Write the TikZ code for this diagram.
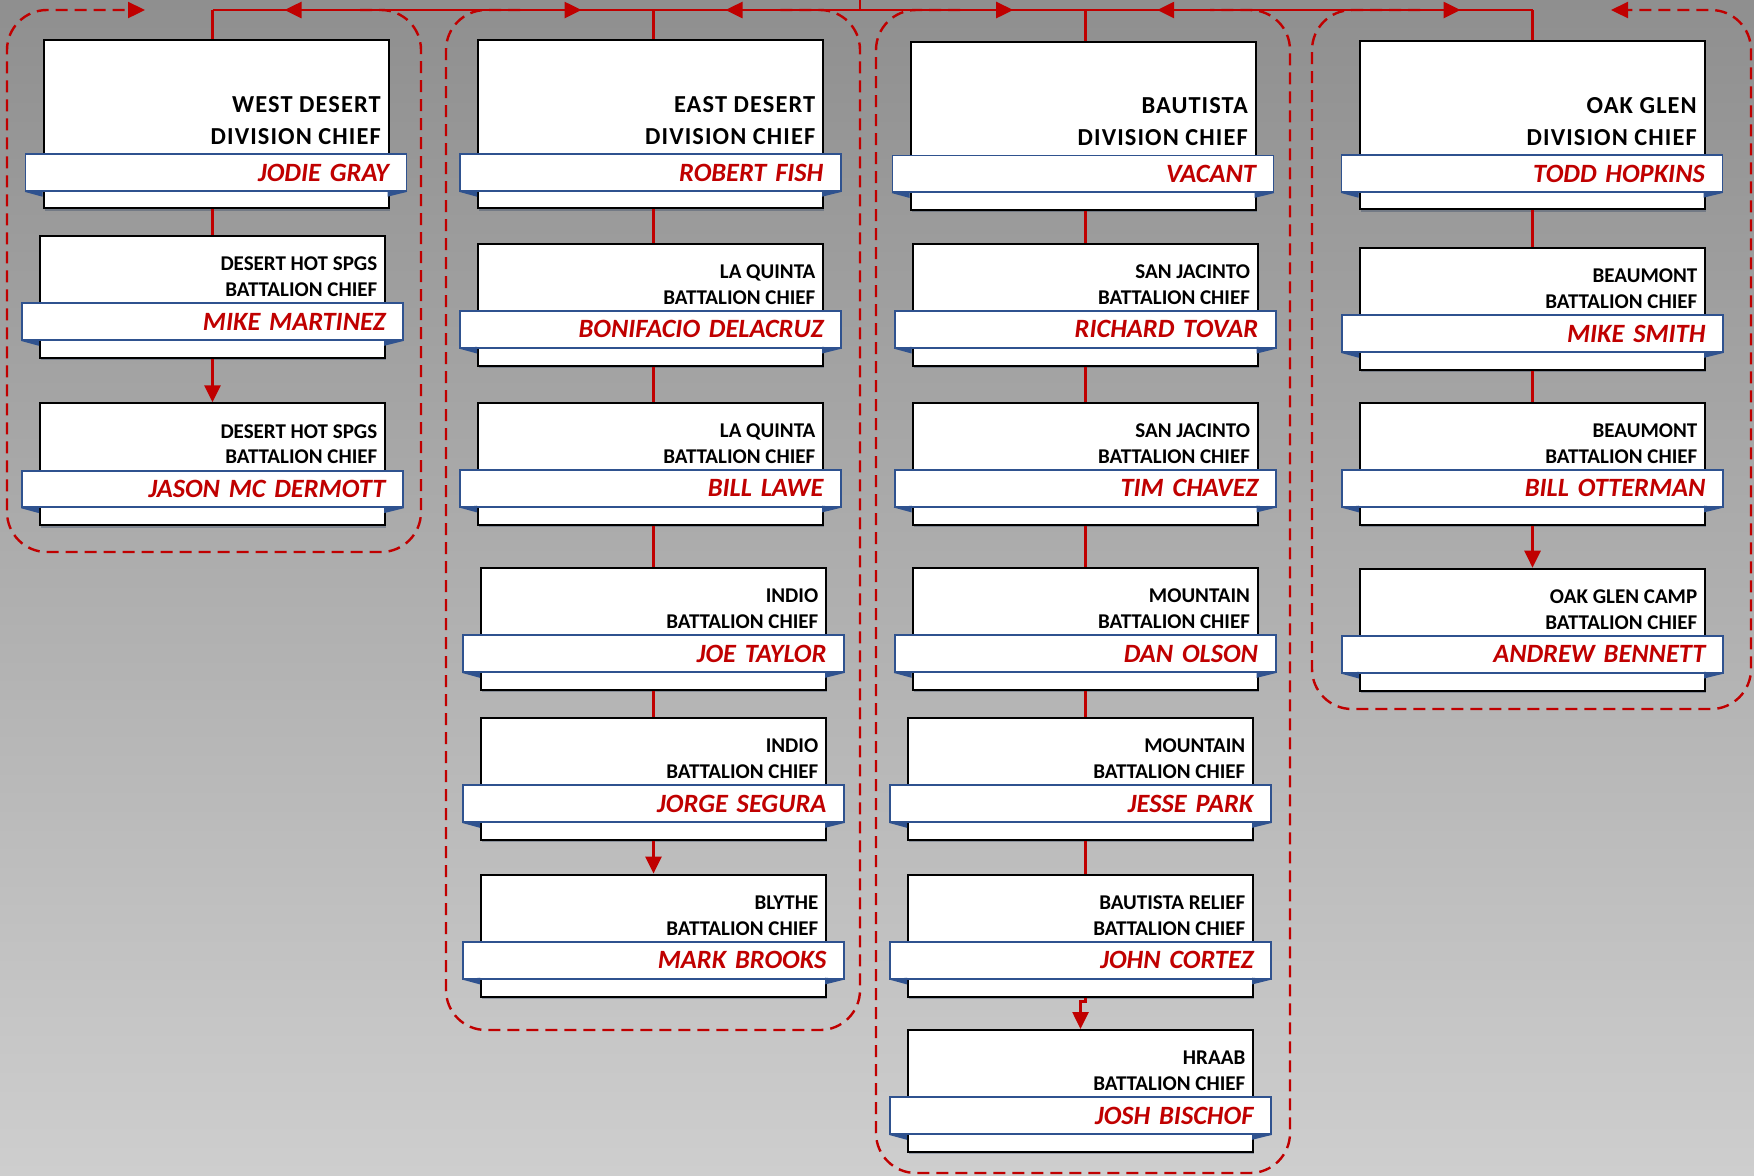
\documentclass[tikz,border=0pt]{standalone}
\usepackage{fontspec}
\setmainfont{Carlito}
\usetikzlibrary{arrows.meta,shadows}

\definecolor{chiefred}{RGB}{192,0,0}
\definecolor{ribbonblue}{RGB}{47,82,143}
\definecolor{bgtop}{RGB}{143,143,143}
\definecolor{bgbottom}{RGB}{206,206,206}

\tikzset{every picture/.style={line width=0.75pt},
  chiefbox/.style={draw=black, line width=1pt, fill=white, minimum width=172.5pt, inner sep=0pt, anchor=north west,
    drop shadow={shadow xshift=0.6pt, shadow yshift=-1.2pt, opacity=0.3, fill=ribbonblue!60!black}},
  divbox/.style={chiefbox, minimum height=84pt},
  batbox/.style={chiefbox, minimum height=61pt},
  divtitle/.style={anchor=south east, align=right, inner sep=0pt, font=\fontsize{12.2}{16}\selectfont\bfseries\addfontfeature{LetterSpace=4.5}},
  battitle/.style={anchor=south east, align=right, inner sep=0pt, font=\fontsize{10.5}{12.8}\selectfont\bfseries},
  ribbon/.style={draw=ribbonblue, line width=0.9pt, fill=white, minimum width=190.5pt, minimum height=18.35pt, text width=173pt,
    inner xsep=8.75pt, inner ysep=0pt, align=right, anchor=north west, text=chiefred, font=\fontsize{13.2}{15}\selectfont\bfseries\itshape},
  fold/.style={fill=ribbonblue},
  link/.style={draw=chiefred, line width=1.3pt},
  tip/.style={-{Triangle[length=8.5pt,width=8pt]}},
  group/.style={draw=chiefred, line width=1.2pt, dash pattern=on 6pt off 3.5pt, rounded corners=20pt}
}

% division chief box: name, left, top, title, title, person
\newcommand{\divchief}[6]{%
  \node[divbox] (#1) at (#2,#3) {};
  \node[divtitle] (#1t) at ({#2+339},{#3+105.7}) {#4\\#5};
  \node[ribbon] (#1r) at ({#2-18},{#3+114}) {#6};
  \fill[fold] (#1r.south west) -- ({#2},{#3+150.7}) -- ({#2},{#3+157.4}) -- cycle;
  \fill[fold] (#1r.south east) -- ({#2+345},{#3+150.7}) -- ({#2+345},{#3+157.4}) -- cycle;
}
% battalion chief box: name, left, top, title, title, person
\newcommand{\batchief}[6]{%
  \node[batbox] (#1) at (#2,#3) {};
  \node[battitle] (#1t) at ({#2+339},{#3+62.3}) {#4\\#5};
  \node[ribbon] (#1r) at ({#2-18},{#3+67.4}) {#6};
  \fill[fold] (#1r.south west) -- ({#2},{#3+104.1}) -- ({#2},{#3+110.8}) -- cycle;
  \fill[fold] (#1r.south east) -- ({#2+345},{#3+104.1}) -- ({#2+345},{#3+110.8}) -- cycle;
}

\begin{document}
\begin{tikzpicture}[x=0.5pt,y=0.5pt,yscale=-1,xscale=1]
\useasboundingbox (0,0) rectangle (1754,1175);
%Shape: Background
\shade[top color=bgtop, bottom color=bgbottom] (0,0) rectangle (1754,1175);

%Shape: Division groups
\draw[group,tip] (360,10) -- (421,10) -- (421,552) -- (7,552) -- (7,10) -- (145,10);
\draw[group] (520,10) -- (446,10) -- (446,1030) -- (860,1030) -- (860,10) -- (780,10);
\draw[group] (960,10) -- (876,10) -- (876,1173) -- (1290,1173) -- (1290,10) -- (1210,10);
\draw[group,tip] (1420,10) -- (1312,10) -- (1312,709) -- (1751,709) -- (1751,10) -- (1611,10);

% West Desert
\divchief{wd}{42.5}{39.3}{WEST DESERT}{DIVISION CHIEF}{JODIE GRAY}
\batchief{dh1}{39}{235}{DESERT HOT SPGS}{BATTALION CHIEF}{MIKE MARTINEZ}
\batchief{dh2}{39}{402.3}{DESERT HOT SPGS}{BATTALION CHIEF}{JASON MC DERMOTT}
% East Desert
\divchief{ed}{477}{39.3}{EAST DESERT}{DIVISION CHIEF}{ROBERT FISH}
\batchief{lq1}{477}{242.7}{LA QUINTA}{BATTALION CHIEF}{BONIFACIO DELACRUZ}
\batchief{lq2}{477}{401.6}{LA QUINTA}{BATTALION CHIEF}{BILL LAWE}
\batchief{in1}{480}{567}{INDIO}{BATTALION CHIEF}{JOE TAYLOR}
\batchief{in2}{480}{717}{INDIO}{BATTALION CHIEF}{JORGE SEGURA}
\batchief{bl}{480}{873.6}{BLYTHE}{BATTALION CHIEF}{MARK BROOKS}
% Bautista
\divchief{bt}{909.5}{40.5}{BAUTISTA}{DIVISION CHIEF}{VACANT}
\batchief{sj1}{911.7}{242.7}{SAN JACINTO}{BATTALION CHIEF}{RICHARD TOVAR}
\batchief{sj2}{911.7}{401.6}{SAN JACINTO}{BATTALION CHIEF}{TIM CHAVEZ}
\batchief{mt1}{911.7}{567}{MOUNTAIN}{BATTALION CHIEF}{DAN OLSON}
\batchief{mt2}{907}{717}{MOUNTAIN}{BATTALION CHIEF}{JESSE PARK}
\batchief{br}{907}{873.6}{BAUTISTA RELIEF}{BATTALION CHIEF}{JOHN CORTEZ}
\batchief{hr}{907}{1029}{HRAAB}{BATTALION CHIEF}{JOSH BISCHOF}
% Oak Glen
\divchief{og}{1358.5}{40.3}{OAK GLEN}{DIVISION CHIEF}{TODD HOPKINS}
\batchief{bm1}{1359}{247}{BEAUMONT}{BATTALION CHIEF}{MIKE SMITH}
\batchief{bm2}{1359}{401.6}{BEAUMONT}{BATTALION CHIEF}{BILL OTTERMAN}
\batchief{ogc}{1359}{567.7}{OAK GLEN CAMP}{BATTALION CHIEF}{ANDREW BENNETT}

% Bus
\coordinate (feed) at (860,0);
\coordinate (bus) at (860,10);
\coordinate (d1) at (bus -| dh1.north);
\coordinate (d2) at (bus -| in1.north);
\coordinate (d3) at (bus -| sj1.north);
\coordinate (d4) at (bus -| ogc.north);
\draw[link] (feed) -- (bus);
\draw[link] (d1) -- (d4);
\foreach \d in {d2,d3,d4} \draw[link,tip] ([xshift=-48pt]\d) -- ([xshift=-36pt]\d);
\foreach \d in {d1,d2,d3} \draw[link,tip] ([xshift=48pt]\d) -- ([xshift=36pt]\d);

% West Desert links
\draw[link] (d1) -- (d1 |- wd.north);
\draw[link] (d1 |- wd.south) -- (dh1.north);
\draw[link,tip] (dh1.south) -- (dh2.north);
% East Desert links
\draw[link] (d2) -- (d2 |- ed.north);
\draw[link] (d2 |- ed.south) -- (d2 |- lq1.north);
\draw[link] (d2 |- lq1.south) -- (d2 |- lq2.north);
\draw[link] (d2 |- lq2.south) -- (in1.north);
\draw[link] (in1.south) -- (in2.north);
\draw[link,tip] (in2.south) -- (bl.north);
% Bautista links
\draw[link] (d3) -- (d3 |- bt.north);
\draw[link] (d3 |- bt.south) -- (sj1.north);
\draw[link] (sj1.south) -- (sj2.north);
\draw[link] (sj2.south) -- (mt1.north);
\draw[link] (mt1.south) -- (d3 |- mt2.north);
\draw[link] (d3 |- mt2.south) -- (d3 |- br.north);
\draw[link,tip] (d3 |- br.south) -- ++(0,4) -| (hr.north);
% Oak Glen links
\draw[link] (d4) -- (d4 |- og.north);
\draw[link] (d4 |- og.south) -- (bm1.north);
\draw[link] (bm1.south) -- (bm2.north);
\draw[link,tip] (bm2.south) -- (ogc.north);

\end{tikzpicture}
\end{document}
